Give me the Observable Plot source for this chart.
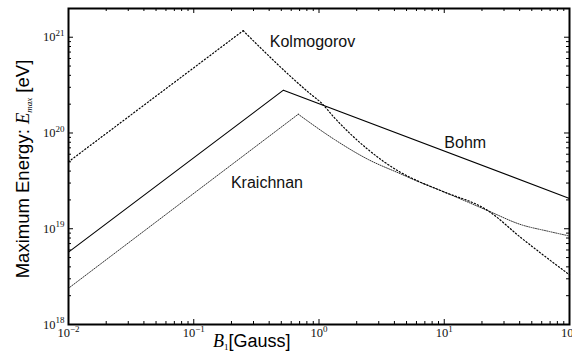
<!DOCTYPE html>
<html><head><meta charset="utf-8">
<script src="https://cdn.jsdelivr.net/npm/d3@7"></script>
<script src="https://cdn.jsdelivr.net/npm/@observablehq/plot@0.6"></script>
<style>body{margin:0;background:#fff} svg{display:block}</style>
</head><body><div id="chart"></div>
<script>
// Data
const bohmB = [0.01, 0.52, 100];
const bohmE = [5.7e18, 2.8e20, 2.07e19];
const kolmB = [0.01, 0.248, 0.863, 1.04, 1.33, 2.45, 4.53, 5.97, 9.46, 22.4, 41.3, 100];
const kolmE = [5.0e19, 1.17e21, 2.53e20, 2.07e20, 1.44e20, 6.76e19, 3.85e19, 3.21e19, 2.49e19, 1.54e19, 8.0e18, 3.3e18];
const kraiB = [0.01, 0.683, 1.32, 2.45, 4.53, 5.75, 9.46, 22.4, 41.3, 65.5, 100];
const kraiE = [2.39e18, 1.57e20, 8.6e19, 5.32e19, 3.72e19, 3.24e19, 2.49e19, 1.54e19, 1.10e19, 9.5e18, 8.4e18];

const labelText = ["Kolmogorov", "Bohm", "Kraichnan"];
const labelB = [0.887, 14.7, 0.384];
const labelE = [8.9e20, 7.9e19, 2.98e19];

const xMajor = [0.01, 0.1, 1, 10, 100];
const yMajor = [1e18, 1e19, 1e20, 1e21];
const minorMult = [2, 3, 4, 5, 6, 7, 8, 9];
const xMinor = xMajor.slice(0, -1).flatMap(d => minorMult.map(m => d * m));
const yMinor = yMajor.slice(0, -1).flatMap(d => minorMult.map(m => d * m));

const W = 572, H = 354, mL = 68, mR = 3, mT = 8, mB = 30;
const innerW = W - mL - mR, innerH = H - mT - mB;
const majorLen = 5, minorLen = 3;

const mk = (B, E) => B.map((b, i) => ({b, e: E[i]}));
const bohm = mk(bohmB, bohmE), kolm = mk(kolmB, kolmE), krai = mk(kraiB, kraiE);
const labels = labelText.map((t, i) => ({t, b: labelB[i], e: labelE[i]}));
// split each curve at its peak: straight rise, smooth fall
const peakIdx = arr => arr.reduce((m, d, i) => d.e > arr[m].e ? i : m, 0);
const rise = arr => arr.slice(0, peakIdx(arr) + 1);
const fall = arr => arr.slice(peakIdx(arr));

const fmt = d => "10^" + Math.round(Math.log10(d));
const kolmStyle = {x: "b", y: "e", stroke: "#000", strokeWidth: 1.2, strokeDasharray: "1.2,2.2"};
const kraiStyle = {x: "b", y: "e", stroke: "#333", strokeWidth: 1, strokeDasharray: "1,1.3"};

const plot = Plot.plot({
  width: W, height: H,
  marginLeft: mL, marginRight: mR, marginTop: mT, marginBottom: mB,
  style: {background: "#fff", overflow: "visible"},
  x: {type: "log", domain: [0.01, 100]},
  y: {type: "log", domain: [1e18, Math.pow(10, 21.3)]},
  marks: [
    Plot.axisX(xMajor, {anchor: "bottom", tickSize: 0, tickPadding: 4, tickFormat: fmt, label: null}),
    Plot.axisY(yMajor, {anchor: "left", tickSize: 0, tickPadding: 4, tickFormat: fmt, label: null}),
    // inward ticks
    Plot.ruleX(xMajor, {x: d => d, insetTop: innerH - majorLen, stroke: "#000"}),
    Plot.ruleX(xMajor, {x: d => d, insetBottom: innerH - majorLen, stroke: "#000"}),
    Plot.ruleX(xMinor, {x: d => d, insetTop: innerH - minorLen, stroke: "#000"}),
    Plot.ruleX(xMinor, {x: d => d, insetBottom: innerH - minorLen, stroke: "#000"}),
    Plot.ruleY(yMajor, {y: d => d, insetRight: innerW - majorLen, stroke: "#000"}),
    Plot.ruleY(yMajor, {y: d => d, insetLeft: innerW - majorLen, stroke: "#000"}),
    Plot.ruleY(yMinor, {y: d => d, insetRight: innerW - minorLen, stroke: "#000"}),
    Plot.ruleY(yMinor, {y: d => d, insetLeft: innerW - minorLen, stroke: "#000"}),
    Plot.line(rise(krai), kraiStyle),
    Plot.line(fall(krai), {...kraiStyle, curve: "monotone-x"}),
    Plot.line(rise(kolm), kolmStyle),
    Plot.line(fall(kolm), {...kolmStyle, curve: "monotone-x"}),
    Plot.line(bohm, {x: "b", y: "e", stroke: "#000", strokeWidth: 1.1}),
    Plot.text(labels, {x: "b", y: "e", text: "t", fontSize: 16, fontFamily: "Liberation Sans", fill: "#111"}),
    Plot.frame({stroke: "#000", strokeWidth: 2})
  ]
});

const svg = d3.select(plot);
svg.attr("overflow", "visible");
// superscript tick labels
svg.selectAll('g[aria-label="x-axis tick label"] text, g[aria-label="y-axis tick label"] text').each(function() {
  const el = d3.select(this);
  const s = el.text();
  const exp = s.split("^")[1].replace("-", "\u2212");
  el.text(null).style("font-size", "12.5px").style("font-family", "'Liberation Serif', serif").style("fill", "#111");
  el.append("tspan").text("10");
  el.append("tspan").attr("dy", "-0.6em").style("font-size", "9px").text(exp);
});

// axis titles
const xt = svg.append("text").attr("x", 213).attr("y", 347).style("font-size", "18px").attr("fill", "#000").attr("text-anchor", "start");
xt.append("tspan").style("font-family", "'Liberation Serif', serif").attr("font-style", "italic").text("B");
xt.append("tspan").style("font-family", "'Liberation Serif', serif").style("font-size", "9px").attr("dy", 3).text("1");
xt.append("tspan").style("font-family", "'Liberation Sans', sans-serif").attr("dy", -3).text("[Gauss]");

const yt = svg.append("text").attr("transform", `translate(29,${mT + innerH / 2 + 3}) rotate(-90)`)
  .attr("text-anchor", "middle").style("font-size", "18.5px").attr("fill", "#000");
yt.append("tspan").style("font-family", "'Liberation Sans', sans-serif").text("Maximum Energy: ");
yt.append("tspan").style("font-family", "'Liberation Serif', serif").attr("font-style", "italic").text("E");
yt.append("tspan").style("font-family", "'Liberation Serif', serif").attr("font-style", "italic").style("font-size", "9px").attr("dy", 3).text("max");
yt.append("tspan").style("font-family", "'Liberation Sans', sans-serif").attr("dy", -3).text(" [eV]");

document.getElementById("chart").append(plot);
</script>
</body></html>
